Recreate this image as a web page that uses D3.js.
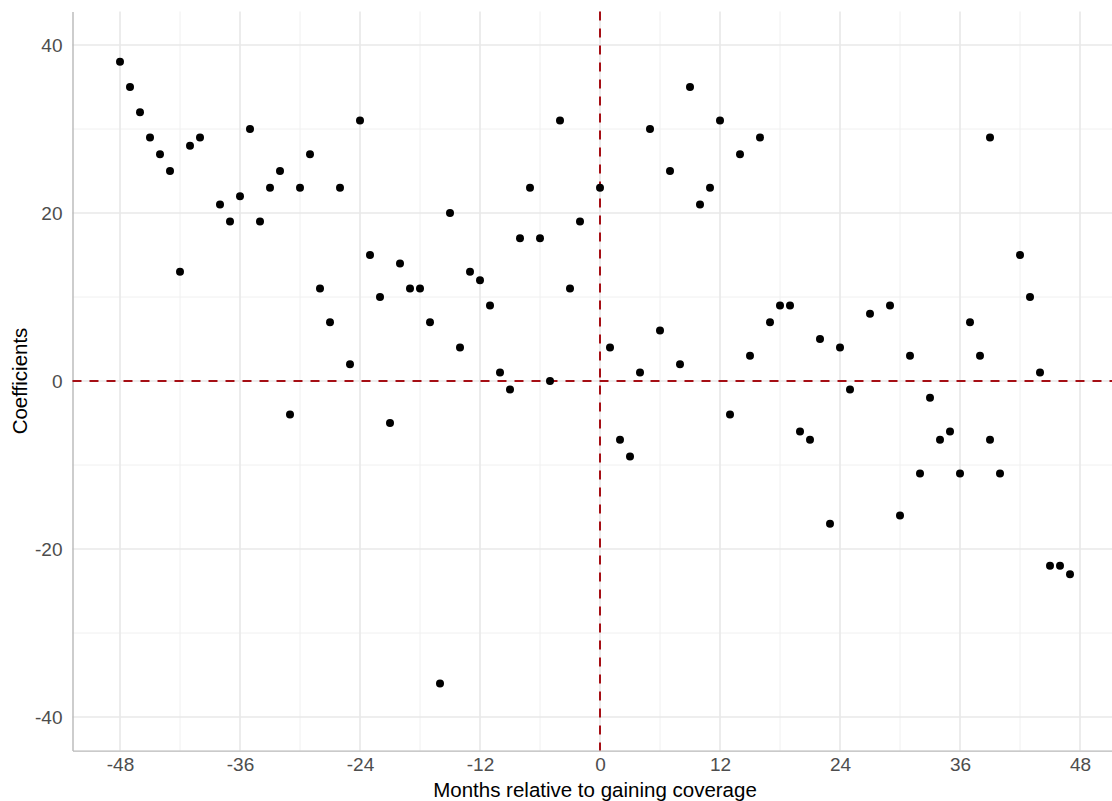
<!DOCTYPE html>
<html>
<head>
<meta charset="utf-8">
<script src="https://cdn.jsdelivr.net/npm/d3@7"></script>
<style>
  body { margin: 0; background: #fff; }
  text { font-family: "Liberation Sans", Arial, sans-serif; }
</style>
</head>
<body>
<svg id="chart" width="1112" height="801"></svg>
<script>
// event-study coefficients, one per month relative to gaining coverage
const months = [-48, -47, -46, -45, -44, -43, -42, -41, -40, -38, -37, -36, -35, -34, -33, -32,
  -31, -30, -29, -28, -27, -26, -25, -24, -23, -22, -21, -20, -19, -18, -17, -16, -15, -14,
  -13, -12, -11, -10, -9, -8, -7, -6, -5, -4, -3, -2, 0, 1, 2, 3, 4, 5, 6, 7, 8, 9, 10, 11,
  12, 13, 14, 15, 16, 17, 18, 19, 20, 21, 22, 23, 24, 25, 27, 29, 30, 31, 32, 33, 34, 35,
  36, 37, 38, 39, 39, 40, 42, 43, 44, 45, 46, 47];
const coefs = [38, 35, 32, 29, 27, 25, 13, 28, 29, 21, 19, 22, 30, 19, 23, 25,
  -4, 23, 27, 11, 7, 23, 2, 31, 15, 10, -5, 14, 11, 11, 7, -36, 20, 4,
  13, 12, 9, 1, -1, 17, 23, 17, 0, 31, 11, 19, 23, 4, -7, -9, 1, 30, 6, 25, 2, 35, 21, 23,
  31, -4, 27, 3, 29, 7, 9, 9, -6, -7, 5, -17, 4, -1, 8, 9, -16, 3, -11, -2, -7, -6,
  -11, 7, 3, 29, -7, -11, 15, 10, 1, -22, -22, -23];

const xTicks = [-48, -36, -24, -12, 0, 12, 24, 36, 48];
const xMinor = [-42, -30, -18, -6, 6, 18, 30, 42];
const yTicks = [-40, -20, 0, 20, 40];
const yMinor = [-30, -10, 10, 30];

const panel = { left: 72.5, right: 1117.5, top: 11.4, bottom: 750.6 };

const x = d3.scaleLinear().domain([-52.75, 51.75]).range([panel.left, panel.right]);
const y = d3.scaleLinear().domain([-44, 44]).range([panel.bottom, panel.top]);

const svg = d3.select("#chart");
svg.append("rect").attr("width", 1112).attr("height", 801).attr("fill", "#fff");

const grid = svg.append("g");
// minor grid
grid.selectAll(".xminor").data(xMinor).enter().append("line")
  .attr("x1", d => x(d)).attr("x2", d => x(d))
  .attr("y1", panel.top).attr("y2", panel.bottom)
  .attr("stroke", "#f0f0f0").attr("stroke-width", 1);
grid.selectAll(".yminor").data(yMinor).enter().append("line")
  .attr("x1", panel.left).attr("x2", panel.right)
  .attr("y1", d => y(d)).attr("y2", d => y(d))
  .attr("stroke", "#f0f0f0").attr("stroke-width", 1);
// major grid
grid.selectAll(".xmajor").data(xTicks).enter().append("line")
  .attr("x1", d => x(d)).attr("x2", d => x(d))
  .attr("y1", panel.top).attr("y2", panel.bottom)
  .attr("stroke", "#e8e8e8").attr("stroke-width", 1.6);
grid.selectAll(".ymajor").data(yTicks).enter().append("line")
  .attr("x1", panel.left).attr("x2", panel.right)
  .attr("y1", d => y(d)).attr("y2", d => y(d))
  .attr("stroke", "#e8e8e8").attr("stroke-width", 1.6);

// axes, ggplot style: grey line, no ticks, plain hyphen minus
const fmt = d => String(d);
const xAxis = svg.append("g")
  .attr("transform", "translate(0," + panel.bottom + ")")
  .call(d3.axisBottom(x).tickValues(xTicks).tickFormat(fmt).tickSize(0).tickPadding(7));
const yAxis = svg.append("g")
  .attr("transform", "translate(" + panel.left + ",0)")
  .call(d3.axisLeft(y).tickValues(yTicks).tickFormat(fmt).tickSize(0).tickPadding(10));
[xAxis, yAxis].forEach(a => {
  a.select(".domain").attr("stroke", "#b8b8b8").attr("stroke-width", 1.4);
  a.selectAll("text").attr("fill", "#4d4d4d").style("font-size", "19px")
    .style("font-family", "'Liberation Sans', Arial, sans-serif");
});

// reference lines
svg.append("line")
  .attr("x1", panel.left).attr("x2", panel.right)
  .attr("y1", y(0)).attr("y2", y(0))
  .attr("stroke", "#a50f15").attr("stroke-width", 2).attr("stroke-dasharray", "9,8");
svg.append("line")
  .attr("x1", x(0)).attr("x2", x(0))
  .attr("y1", panel.top).attr("y2", panel.bottom)
  .attr("stroke", "#a50f15").attr("stroke-width", 2).attr("stroke-dasharray", "9,8");

// points
svg.append("g").selectAll("circle")
  .data(months.map((m, i) => ({ m: m, c: coefs[i] })))
  .enter().append("circle")
  .attr("cx", d => x(d.m))
  .attr("cy", d => y(d.c))
  .attr("r", 4)
  .attr("fill", "#000");

// titles
svg.append("text")
  .attr("x", (panel.left + panel.right) / 2).attr("y", 797)
  .attr("text-anchor", "middle").style("font-size", "20.5px").attr("fill", "#000")
  .text("Months relative to gaining coverage");
svg.append("text")
  .attr("transform", "translate(27," + (panel.top + panel.bottom) / 2 + ") rotate(-90)")
  .attr("text-anchor", "middle").style("font-size", "20.5px").attr("fill", "#000")
  .text("Coefficients");
</script>
</body>
</html>
